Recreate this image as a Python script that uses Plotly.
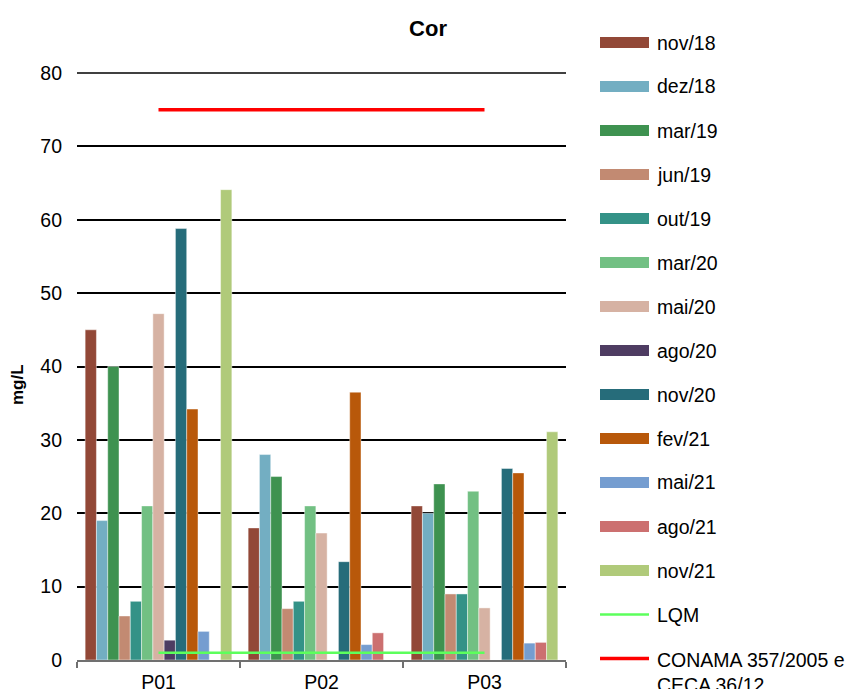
import plotly.graph_objects as go

# Sampling points
points = ["P01", "P02", "P03"]

# Campaigns (series) and their colours
campaigns = ["nov/18", "dez/18", "mar/19", "jun/19", "out/19", "mar/20", "mai/20",
             "ago/20", "nov/20", "fev/21", "mai/21", "ago/21", "nov/21"]
colors = ["#924837", "#73AEC2", "#3E9250", "#C28A72", "#349287", "#72C083", "#D6B2A3",
          "#4E3C62", "#266C7A", "#B8580A", "#759DD0", "#CC7070", "#B0CA7A"]

# Cor (mg/L) per campaign, values for P01, P02, P03 (None = not sampled)
nov18 = [45, 18, 21]
dez18 = [19, 28, 20]
mar19 = [40, 25, 24]
jun19 = [6, 7, 9]
out19 = [8, 8, 9]
mar20 = [21, 21, 23]
mai20 = [47.2, 17.3, 7.1]
ago20 = [2.7, None, None]
nov20 = [58.8, 13.4, 26.1]
fev21 = [34.2, 36.5, 25.5]
mai21 = [3.9, 2.1, 2.3]
ago21 = [None, 3.7, 2.4]
nov21 = [64.1, None, 31.1]
series = [nov18, dez18, mar19, jun19, out19, mar20, mai20,
          ago20, nov20, fev21, mai21, ago21, nov21]

# Reference limits
lqm = [1, 1, 1]
conama = [75, 75, 75]
lqm_name = "LQM"
conama_name = "CONAMA 357/2005 e<br>CECA 36/12"

# Y axis ticks
y_ticks = list(range(0, 81, 10))
y_max = 80

FONT = "Liberation Sans, Arial, sans-serif"
W, H = 851, 689
ML, MR, MT, MB = 77, 285, 73, 29
PW, PH = W - ML - MR, H - MT - MB


def px_x(px):
    return (px - ML) / PW


def px_y(py):
    return (H - MB - py) / PH


fig = go.Figure()

for name, vals, col in zip(campaigns, series, colors):
    fig.add_trace(go.Bar(
        x=points, y=vals, name=name,
        marker=dict(color=col, line=dict(color="rgba(255,255,255,0.55)", width=0.8)),
        showlegend=False,
    ))

fig.add_trace(go.Scatter(x=points, y=lqm, mode="lines", name=lqm_name,
                         line=dict(color="#5CFF5C", width=2.5), showlegend=False))
fig.add_trace(go.Scatter(x=points, y=conama, mode="lines", name=conama_name,
                         line=dict(color="#FF0000", width=3.5), showlegend=False))

shapes = []
annotations = []

# Gridline on the top edge of the plot (value range maximum)
shapes.append(dict(type="line", xref="paper", x0=0, x1=1, yref="paper", y0=1, y1=1,
                   line=dict(color="#000000", width=1.5), layer="above"))

# Hand-built legend column on the right
row0, step = 42.5, 44
x0, x1, xt = 600, 649, 655
LEG_SIZE = 19.5
for i, (name, col) in enumerate(zip(campaigns, colors)):
    yc = row0 + i * step
    shapes.append(dict(type="rect", xref="paper", yref="paper",
                       x0=px_x(x0), x1=px_x(x1), y0=px_y(yc - 5.5), y1=px_y(yc + 5.5),
                       fillcolor=col, line=dict(width=0)))
    annotations.append(dict(text=name, xref="paper", yref="paper", x=px_x(xt), y=px_y(yc),
                            xanchor="left", yanchor="middle", showarrow=False,
                            font=dict(size=LEG_SIZE, color="#000000", family=FONT)))

for j, (name, col, lw) in enumerate([(lqm_name, "#5CFF5C", 2.5), (conama_name, "#FF0000", 3.5)]):
    yc = row0 + (len(campaigns) + j) * step
    shapes.append(dict(type="line", xref="paper", yref="paper",
                       x0=px_x(x0), x1=px_x(x1), y0=px_y(yc), y1=px_y(yc),
                       line=dict(color=col, width=lw)))
    if "<br>" in name:
        annotations.append(dict(text=name, xref="paper", yref="paper", x=px_x(xt),
                                y=px_y(yc - 12), xanchor="left", yanchor="top", align="left",
                                showarrow=False,
                                font=dict(size=LEG_SIZE, color="#000000", family=FONT)))
    else:
        annotations.append(dict(text=name, xref="paper", yref="paper", x=px_x(xt), y=px_y(yc),
                                xanchor="left", yanchor="middle", showarrow=False,
                                font=dict(size=LEG_SIZE, color="#000000", family=FONT)))

# Y-axis title
annotations.append(dict(text="<b>mg/L</b>", xref="paper", yref="paper",
                        x=px_x(17), y=px_y(385), xanchor="center", yanchor="middle",
                        textangle=-90, showarrow=False,
                        font=dict(size=17, color="#000000", family=FONT)))

fig.update_layout(
    width=W, height=H,
    margin=dict(l=ML, r=MR, t=MT, b=MB, autoexpand=False),
    paper_bgcolor="white", plot_bgcolor="white",
    barmode="group", bargap=0.10, bargroupgap=0,
    font=dict(family=FONT, size=19, color="#000000"),
    title=dict(text="<b>Cor</b>", x=0.503, xref="container", y=1 - 28 / H,
               yref="container", xanchor="center", yanchor="middle",
               font=dict(size=22, family=FONT, color="#000000")),
    xaxis=dict(type="category", showline=True, linecolor="#707070", linewidth=1.5,
               ticks="outside", tickson="boundaries", ticklen=6, tickcolor="#707070",
               tickwidth=1.5, showgrid=False, automargin=False, ticklabelstandoff=4,
               tickfont=dict(size=19.5, family=FONT, color="#000000")),
    yaxis=dict(range=[0, y_max], tickvals=y_ticks, showgrid=True,
               gridcolor="#000000", gridwidth=1.5,
               zeroline=False, showline=False, ticks="", automargin=False,
               ticklabelstandoff=14,
               tickfont=dict(size=19.5, family=FONT, color="#000000")),
    shapes=shapes,
    annotations=annotations,
)

fig.write_html("out.html")
